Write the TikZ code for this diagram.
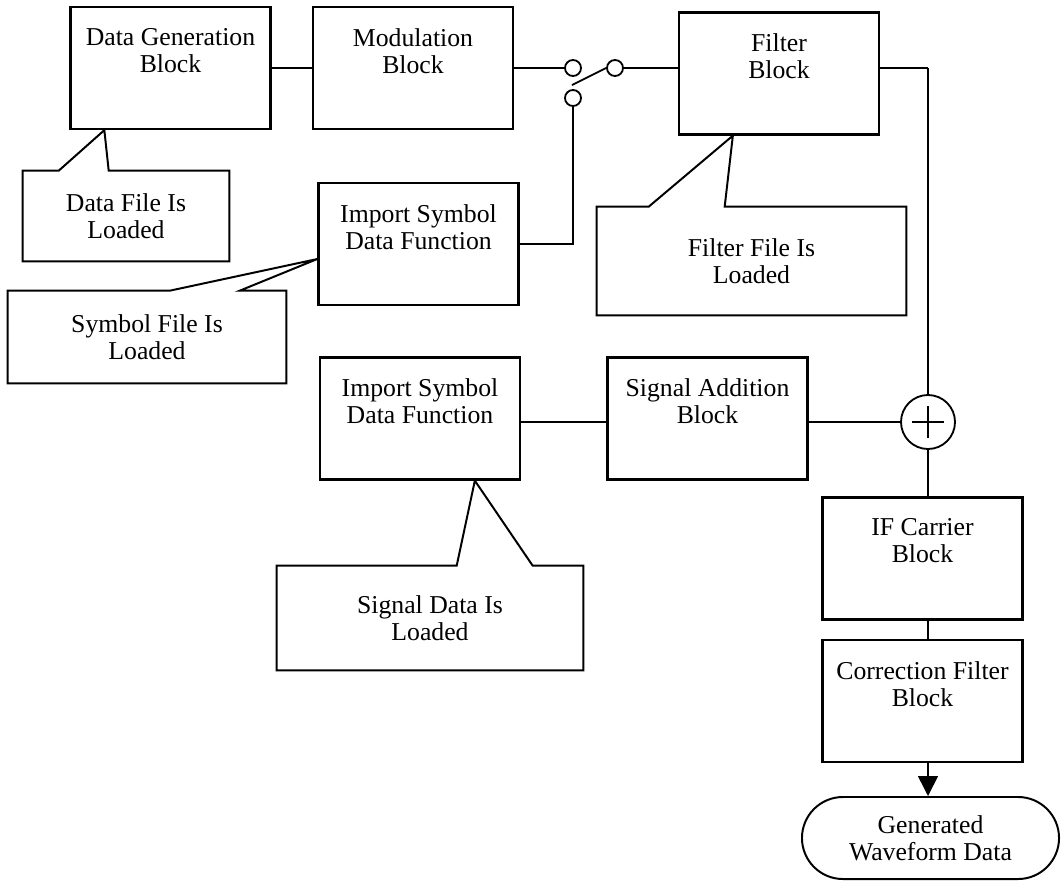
\documentclass[tikz,border=0pt]{standalone}
\usepackage{fontspec}
\setmainfont{Liberation Serif}
\usetikzlibrary{calc,arrows.meta}
\begin{document}
\begin{tikzpicture}[x=0.025cm,y=-0.025cm,font=\fontsize{18.3}{19.2}\selectfont,
    blk/.style={draw,line width=1.6pt,minimum width=5cm,minimum height=3.05cm,
      label={[anchor=north,align=center,inner sep=0pt,yshift=-0.55cm]north:#1}},
    note/.style={align=center,inner sep=0pt},
    noteline/.style={line width=1.4pt},
    contact/.style={circle,draw,line width=1.3pt,minimum size=0.4cm,inner sep=0pt},
    wire/.style={line width=1.7pt},
    thinwire/.style={line width=1.1pt}]
    \useasboundingbox (0,0) rectangle (1064,888);
    % blocks
    \node[blk={Data Generation\\Block}] (dgb) at (170.5,68) {};
    \node[blk={Modulation\\Block}] (mod) at (413,68) {};
    \node[blk={Filter\\Block}] (flt) at (779,73.5) {};
    \node[blk={Import Symbol\\Data Function}] (isd1) at (418.5,244) {};
    \node[blk={Import Symbol\\Data Function}] (isd2) at (420,418.5) {};
    \node[blk={Signal Addition\\Block}] (sab) at (707.5,418.5) {};
    \node[blk={IF Carrier\\Block}] (ifc) at (922.5,558.5) {};
    \node[blk={Correction Filter\\Block}] (cfb) at (922.5,701) {};
    \node[draw,line width=1.4pt,rounded corners=1.025cm,minimum width=6.425cm,minimum height=2.05cm,align=center] (wfd) at (930.5,838) {Generated\\Waveform Data};
    % switch and adder
    \node[contact] (swA) at (573,68) {};
    \node[contact] (swB) at (615,68) {};
    \node[contact] (swC) at (573,98) {};
    \draw[line width=1.3pt] ($(swC.north)+(-1,-4)$) -- (swB.west);
    \node[circle,draw,line width=1.3pt,minimum size=1.35cm] (sum) at (928,422) {};
    \draw[line width=1pt] ($(sum)+(-16,0)$) -- ($(sum)+(16,0)$) ($(sum)+(0,-16)$) -- ($(sum)+(0,16)$);
    % callouts
    \node[note,minimum width=5.15cm,minimum height=2.25cm] (dfl) at (126,216) {Data File Is\\Loaded};
    \node[note,minimum width=6.95cm,minimum height=2.3cm] (sfl) at (147,337) {Symbol File Is\\Loaded};
    \node[note,minimum width=7.725cm,minimum height=2.7cm] (ffl) at (751.5,261) {Filter File Is\\Loaded};
    \node[note,minimum width=7.65cm,minimum height=2.6cm] (sdl) at (430,618) {Signal Data Is\\Loaded};
    \draw[noteline] (dfl.north west) -- ++(36,0) -- ($(dgb.south west)+(35,0)$) -- ($(dfl.north west)+(86,0)$) -- (dfl.north east) |- (dfl.south west) -- cycle;
    \draw[noteline] (sfl.north west) -- ++(162,0) -- ($(isd1.west)+(0,15)$) -- ($(sfl.north west)+(232,0)$) -- (sfl.north east) |- (sfl.south west) -- cycle;
    \draw[noteline] (ffl.north west) -- ++(52,0) -- ($(flt.south west)+(55,0)$) -- ($(ffl.north west)+(128,0)$) -- (ffl.north east) |- (ffl.south west) -- cycle;
    \draw[noteline] (sdl.north west) -- ++(180,0) -- ($(isd2.south west)+(156,0)$) -- ($(sdl.north west)+(256,0)$) -- (sdl.north east) |- (sdl.south west) -- cycle;
    % connections
    \draw[wire] (dgb.east) -- (mod.west);
    \draw[wire] (mod.east) -- (swA.west);
    \draw[wire] (swB.east) -- (swB.east -| flt.west);
    \draw[wire] (flt.east |- swB) -- (swB -| sum);
    \draw[thinwire] (swB -| sum) -- (sum.north);
    \draw[wire] (swC.south) |- (isd1.east);
    \draw[wire] (isd2.east |- sum) -- (sab.west |- sum);
    \draw[thinwire] (sab.east |- sum) -- (sum.west);
    \draw[thinwire] (sum.south) -- (sum.south |- ifc.north);
    \draw[thinwire] (ifc.south -| sum) -- (cfb.north -| sum);
    \draw[thinwire,-{Triangle[length=0.5cm,width=0.5cm]}] (cfb.south -| sum) -- (wfd.north -| sum);
\end{tikzpicture}
\end{document}
